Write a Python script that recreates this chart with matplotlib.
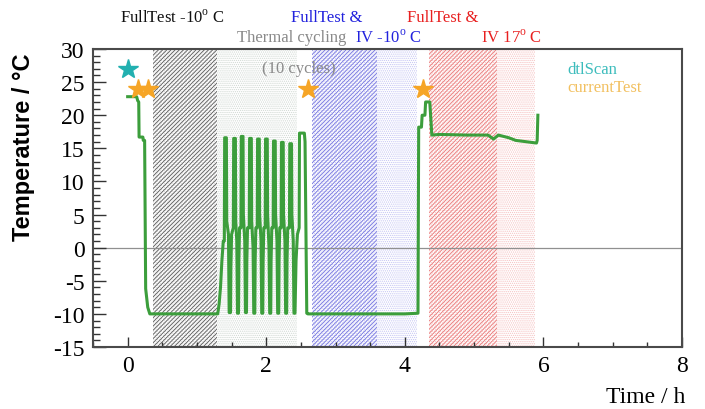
import matplotlib
matplotlib.use("Agg")
import matplotlib.pyplot as plt
from matplotlib.ticker import MultipleLocator

plt.rcParams['mathtext.fontset'] = 'custom'
plt.rcParams['mathtext.rm'] = 'Liberation Serif'
plt.rcParams['hatch.linewidth'] = 0.6
plt.rcParams['axes.unicode_minus'] = False

# ---- data ----
time_h = [0.00, 0.13, 0.145, 0.16, 0.165, 0.22, 0.225, 0.245, 0.26, 0.29, 0.32, 1.30,
          1.32, 1.34, 1.36, 1.38, 1.395, 1.40, 1.425, 1.43, 1.455, 1.465, 1.485,
          1.49, 1.50, 1.525, 1.53, 1.555, 1.56, 1.575, 1.585, 1.60,
          1.605, 1.615, 1.635, 1.64, 1.665, 1.67, 1.69, 1.70, 1.715,
          1.72, 1.73, 1.755, 1.76, 1.785, 1.79, 1.81, 1.82, 1.835,
          1.84, 1.85, 1.87, 1.875, 1.90, 1.905, 1.925, 1.935, 1.95,
          1.955, 1.965, 1.985, 1.99, 2.015, 2.02, 2.04, 2.05, 2.065,
          2.07, 2.08, 2.10, 2.105, 2.13, 2.135, 2.155, 2.165, 2.18,
          2.185, 2.195, 2.215, 2.22, 2.245, 2.25, 2.27, 2.28, 2.295,
          2.30, 2.31, 2.335, 2.34, 2.365, 2.37, 2.39, 2.40, 2.415,
          2.43, 2.45, 2.475, 2.48, 2.55, 2.56, 2.585, 2.60,
          3.00, 3.50, 4.00, 4.19, 4.20, 4.24, 4.25, 4.29, 4.30, 4.36, 4.39,
          4.50, 4.90, 5.20, 5.28, 5.35, 5.50, 5.60, 5.75, 5.90, 5.91, 5.92]
temp_c = [22.8, 22.8, 22.2, 22.0, 16.7, 16.7, 16.2, 16.2, -6.2, -9.0, -10.0, -10.0,
          -8.5, -6.0, -2.0, 1.0, 1.0, 16.6, 16.6, 4.0, 2.0, -9.8, -9.8,
          -3.0, 2.0, 3.0, 16.5, 16.5, 4.0, 1.0, -9.9, -9.9,
          -2.0, 3.0, 3.0, 16.8, 16.8, 5.0, 1.0, -9.8, -9.8,
          -2.0, 3.0, 3.0, 16.5, 16.5, 4.0, 0.0, -9.9, -9.9,
          -2.0, 3.0, 3.0, 16.4, 16.4, 5.0, 1.0, -9.9, -9.9,
          -2.0, 3.0, 3.0, 16.4, 16.4, 5.0, 0.0, -9.9, -9.9,
          -2.0, 3.0, 3.0, 16.1, 16.1, 5.0, 1.0, -9.9, -9.9,
          -2.0, 3.0, 3.0, 15.9, 15.9, 5.0, 1.0, -9.9, -9.9,
          -2.0, 3.0, 3.0, 15.7, 15.7, 5.0, 1.0, -9.9, -9.9,
          -2.0, 2.0, 3.0, 17.3, 17.3, 16.0, -9.9, -10.0,
          -10.0, -10.0, -10.0, -9.9, 18.2, 18.2, 20.0, 20.0, 22.0, 22.0, 17.0,
          17.1, 17.0, 17.0, 16.4, 17.0, 16.6, 16.2, 16.0, 15.8, 16.2, 20.0]

dtlscan_t = [0.0]
dtlscan_T = [27.0]
current_t = [0.15, 0.30, 2.60, 4.26]
current_T = [24.0, 24.0, 24.0, 24.0]

# shaded test periods (start, end)
fulltest_cold = (0.36, 1.29)
thermal_cycling = (1.29, 2.45)
blue_hatch = (2.66, 3.60)
blue_dots = (2.66, 4.17)
red_hatch = (4.35, 5.33)
red_dots = (4.35, 5.88)

W, H = 705, 410
fig = plt.figure(figsize=(W / 100, H / 100), dpi=100)
ax = fig.add_axes([93 / W, (H - 348) / H, (682 - 93) / W, (348 - 50) / H])

serif = 'Liberation Serif'

def span(rng, color, hatch, z=0.5):
    ax.axvspan(rng[0], rng[1], facecolor='none', edgecolor=color, hatch=hatch,
               linewidth=0, zorder=z)

span(fulltest_cold, '#d4d4d4', '........')
span(fulltest_cold, '#5a5a5a', '////////')
span(thermal_cycling, '#d0d8d2', '........')
span(blue_dots, '#c4c4f4', '........')
span(blue_hatch, '#7474e0', '////////')
span(red_dots, '#f6c0c0', '........')
span(red_hatch, '#ea7878', '////////')

ax.axhline(0, color='#909090', lw=0.9, zorder=1.5)

ax.plot(time_h, temp_c, color='#3c9e3c', lw=2.2, zorder=3)
ax.plot(dtlscan_t, dtlscan_T, ls='none', marker='*', ms=15, color='#22b0b0', zorder=4)
ax.plot(current_t, current_T, ls='none', marker='*', ms=15, color='#f6a526', zorder=4)

ax.set_xlim(-0.5, 8.0)
ax.set_ylim(-15, 30)
ax.xaxis.set_major_locator(MultipleLocator(2))
ax.xaxis.set_minor_locator(MultipleLocator(0.5))
ax.yaxis.set_major_locator(MultipleLocator(5))
ax.yaxis.set_minor_locator(MultipleLocator(1))
ax.tick_params(which='both', direction='in', top=False, right=False,
               color='#333333', width=1.0)
ax.tick_params(axis='y', which='major', length=9, pad=6)
ax.tick_params(axis='y', which='minor', length=5)
ax.tick_params(axis='x', which='major', length=7, pad=6)
ax.tick_params(axis='x', which='minor', length=3.5)
for lab in ax.get_xticklabels() + ax.get_yticklabels():
    lab.set_fontfamily(serif)
    lab.set_fontsize(17)
for s in ax.spines.values():
    s.set_color('#4a4a4a')
    s.set_linewidth(1.5)

ax.set_ylabel('Temperature / °C', fontfamily='Liberation Sans', fontweight='bold',
              fontsize=17)
ax.yaxis.set_label_coords(-58 / (682 - 93), (348 - 147) / (348 - 50))

fig.text(685 / W, 1 - 398 / H, 'Time / h', ha='right', va='center',
         fontfamily=serif, fontsize=17)

def ftext(x, y, s, color, ha='left'):
    fig.text(x / W, 1 - y / H, s, ha=ha, va='center', fontfamily=serif,
             fontsize=12, color=color)

ftext(120, 18, r'FullTest -10$^{\mathrm{o}}$ C', '#111111')
ftext(291, 18, 'FullTest &', '#2222dd')
ftext(237, 38, 'Thermal cycling', '#8a8a8a')
ftext(355, 38, r'IV -10$^{\mathrm{o}}$ C', '#2222dd')
ftext(407, 18, 'FullTest &', '#e82020')
ftext(481, 38, r'IV 17$^{\mathrm{o}}$ C', '#e82020')
ftext(262, 69, '(10 cycles)', '#8a8a8a')
ftext(567, 70, 'dtlScan', '#3cbcbc')
ftext(567, 88, 'currentTest', '#f2c060')

fig.savefig('out.png', dpi=100)
